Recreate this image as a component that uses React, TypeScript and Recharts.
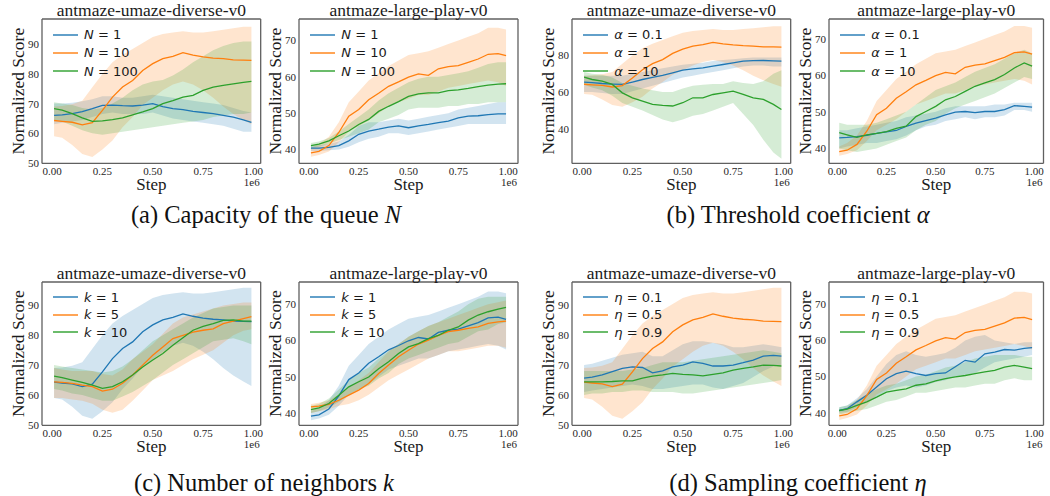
import React from 'react';
import { ComposedChart, Line, Area, XAxis, YAxis, Legend } from 'recharts';

const SERIF = "'Liberation Serif', 'Times New Roman', serif";
const SANS = "'DejaVu Sans', sans-serif";
const BLUE = '#1f77b4';
const ORANGE = '#ff7f0e';
const GREEN = '#2ca02c';
const FRAME = '#606060';

// training step (x 1e6)
const STEPS = [0.01, 0.05, 0.1, 0.15, 0.2, 0.25, 0.3, 0.35, 0.4, 0.45, 0.5, 0.55, 0.6, 0.65, 0.7, 0.75, 0.8, 0.85, 0.9, 0.95, 0.99];
const X_TICKS = [0, 0.25, 0.5, 0.75, 1];

const TITLE_UMAZE = 'antmaze-umaze-diverse-v0';
const TITLE_LARGE = 'antmaze-large-play-v0';

const N_LABELS = ['N = 1', 'N = 10', 'N = 100'];
const A_LABELS = ['α = 0.1', 'α = 1', 'α = 10'];
const K_LABELS = ['k = 1', 'k = 5', 'k = 10'];
const E_LABELS = ['η = 0.1', 'η = 0.5', 'η = 0.9'];

const CAPTIONS = ['(a) Capacity of the queue', '(b) Threshold coefficient', '(c) Number of neighbors', '(d) Sampling coefficient'];
const CAPTION_SYMBOLS = ['N', 'α', 'k', 'η'];

// default configuration (umaze)
const DEF_U_MEAN = [64.3, 64.0, 63.7, 62.8, 63.6, 67.7, 72.2, 75.6, 77.8, 81.2, 83.5, 85.2, 86.0, 87.2, 86.4, 85.8, 85.4, 85.2, 84.8, 84.7, 84.6];
const DEF_U_HI = [69.0, 69.2, 69.8, 71.0, 75.5, 80.0, 84.0, 86.5, 88.5, 90.5, 92.5, 93.5, 94.0, 94.5, 94.0, 94.0, 94.5, 95.0, 95.5, 96.0, 96.0];
const DEF_U_LO = [59.0, 58.5, 56.0, 53.0, 52.0, 54.5, 57.5, 62.0, 65.5, 69.5, 72.0, 74.5, 76.5, 77.5, 76.5, 74.5, 72.0, 69.0, 66.5, 64.5, 63.0];
// default configuration (large)
const DEF_L_MEAN = [39.1, 39.5, 41.1, 44.7, 49.2, 51.0, 53.7, 55.5, 57.4, 58.6, 59.9, 60.8, 60.4, 62.2, 62.8, 63.1, 64.0, 64.9, 66.2, 66.4, 65.8];
const DEF_L_HI = [40.5, 41.5, 43.5, 47.5, 53.0, 56.0, 59.0, 61.0, 63.0, 64.5, 66.0, 66.5, 67.0, 68.0, 69.0, 70.0, 71.0, 72.0, 73.5, 73.5, 73.0];
const DEF_L_LO = [38.0, 38.5, 39.5, 42.0, 45.0, 46.5, 48.0, 50.0, 52.0, 53.0, 54.0, 55.0, 55.0, 56.0, 57.0, 57.5, 58.0, 58.5, 59.0, 58.5, 57.5];

// (a) umaze
const A_N1_MEAN = [66.0, 66.2, 66.6, 67.3, 68.3, 69.4, 69.5, 69.3, 69.2, 69.5, 70.0, 69.0, 68.3, 68.0, 67.4, 67.0, 66.6, 66.0, 65.4, 64.5, 63.7];
const A_N1_HI = [70.0, 70.0, 70.3, 70.8, 71.5, 72.5, 72.5, 72.0, 72.0, 72.5, 73.0, 72.5, 72.0, 71.5, 71.0, 70.5, 70.0, 69.5, 68.5, 67.5, 67.0];
const A_N1_LO = [63.0, 63.5, 64.0, 64.5, 65.5, 66.5, 67.0, 66.5, 66.5, 66.5, 67.0, 66.0, 65.0, 64.5, 64.0, 63.5, 63.0, 62.5, 61.5, 60.5, 60.5];
const A_N100_MEAN = [68.3, 67.8, 66.6, 65.2, 64.0, 64.2, 64.6, 65.2, 66.2, 67.2, 68.3, 70.0, 71.0, 72.2, 72.8, 74.5, 75.6, 76.2, 76.7, 77.2, 77.5];
const A_N100_HI = [70.5, 70.0, 69.5, 68.5, 68.0, 68.5, 70.0, 72.0, 74.5, 76.5, 77.5, 78.0, 79.5, 81.5, 84.0, 86.0, 88.0, 89.5, 90.5, 91.0, 91.0];
const A_N100_LO = [64.5, 64.0, 62.5, 61.0, 60.0, 59.5, 60.0, 60.5, 61.0, 61.5, 62.0, 62.5, 63.0, 63.5, 64.0, 64.5, 65.5, 66.0, 66.5, 66.5, 67.0];
// (a) large
const AL_N1_MEAN = [40.4, 40.4, 40.6, 41.1, 42.4, 44.2, 45.1, 45.6, 46.2, 46.5, 46.0, 46.5, 46.9, 47.4, 47.8, 48.7, 49.2, 49.3, 49.6, 49.8, 49.8];
const AL_N1_HI = [41.2, 41.2, 41.5, 42.2, 44.0, 46.5, 47.5, 47.5, 48.0, 48.5, 48.0, 48.5, 49.0, 49.5, 50.0, 51.0, 51.5, 52.0, 52.5, 53.0, 53.0];
const AL_N1_LO = [39.6, 39.6, 39.8, 40.0, 40.8, 42.0, 43.0, 43.5, 44.5, 44.5, 44.0, 44.5, 45.0, 45.5, 46.0, 46.5, 47.0, 47.0, 47.0, 47.0, 47.0];
const AL_N100_MEAN = [41.1, 41.5, 42.4, 43.8, 45.1, 46.9, 48.3, 50.5, 51.9, 53.2, 54.6, 55.3, 55.6, 55.6, 56.2, 56.4, 56.8, 57.3, 57.7, 58.0, 58.1];
const AL_N100_HI = [41.8, 42.2, 43.2, 45.0, 47.0, 49.0, 51.0, 53.5, 55.5, 57.0, 58.5, 59.5, 60.0, 60.0, 60.5, 61.0, 61.5, 62.5, 63.5, 64.0, 64.0];
const AL_N100_LO = [40.4, 40.8, 41.6, 42.6, 43.5, 44.5, 45.5, 47.5, 48.5, 49.5, 51.0, 51.5, 51.5, 51.5, 52.0, 52.0, 52.5, 52.5, 53.0, 53.0, 53.0];

// (b) umaze
const B_A01_MEAN = [65.5, 65.2, 64.7, 64.4, 64.2, 65.5, 66.9, 68.0, 69.1, 70.5, 72.0, 72.7, 73.3, 74.2, 75.1, 76.0, 76.9, 77.2, 77.3, 77.1, 76.9];
const B_A01_HI = [69.0, 69.0, 69.0, 69.0, 69.0, 70.0, 71.0, 72.0, 73.0, 74.0, 75.0, 75.5, 76.0, 77.0, 77.5, 78.0, 78.5, 79.0, 79.0, 79.0, 79.0];
const B_A01_LO = [60.0, 60.0, 59.5, 59.0, 59.0, 60.5, 62.0, 63.5, 65.0, 66.5, 68.0, 69.0, 70.0, 71.0, 72.0, 73.0, 74.0, 74.5, 74.5, 74.0, 74.0];
const B_A10_MEAN = [68.2, 66.9, 66.0, 64.2, 59.6, 56.9, 55.1, 53.3, 52.7, 52.4, 54.2, 56.9, 56.9, 58.7, 59.6, 60.5, 58.7, 56.9, 56.0, 53.3, 50.5];
const B_A10_HI = [71.0, 70.0, 69.5, 68.0, 65.0, 63.5, 62.0, 61.0, 60.0, 60.0, 62.0, 63.5, 64.0, 64.5, 64.5, 66.0, 65.0, 64.5, 66.0, 70.0, 72.0];
const B_A10_LO = [64.0, 62.5, 61.0, 58.0, 54.0, 52.0, 50.0, 47.5, 45.0, 43.5, 45.0, 47.0, 48.0, 50.0, 52.0, 54.0, 48.0, 42.0, 34.0, 27.0, 23.5];
// (b) large
const BL_A01_MEAN = [42.9, 43.0, 43.2, 43.6, 44.1, 44.5, 44.9, 46.0, 46.9, 47.6, 48.3, 49.2, 49.9, 50.1, 49.8, 50.1, 50.1, 50.6, 51.7, 51.5, 51.3];
const BL_A01_HI = [45.0, 45.0, 45.5, 46.0, 46.5, 47.0, 47.5, 48.5, 49.0, 49.5, 50.0, 51.0, 51.5, 51.5, 51.5, 51.5, 52.0, 52.0, 52.5, 52.5, 52.5];
const BL_A01_LO = [40.0, 40.5, 41.0, 41.5, 41.5, 42.0, 42.5, 43.5, 45.0, 46.0, 46.5, 47.5, 48.0, 48.5, 48.0, 48.5, 48.5, 49.0, 50.5, 50.5, 50.0];
const BL_A10_MEAN = [44.3, 43.7, 43.0, 43.7, 44.1, 44.6, 45.5, 46.1, 48.7, 50.1, 51.5, 53.3, 54.2, 55.6, 57.0, 57.9, 58.8, 60.2, 62.0, 63.4, 62.5];
const BL_A10_HI = [47.0, 46.5, 46.5, 46.5, 47.0, 48.0, 49.0, 50.0, 52.0, 54.0, 56.0, 57.0, 58.0, 59.5, 61.0, 62.0, 63.0, 64.5, 66.0, 67.0, 66.0];
const BL_A10_LO = [40.0, 39.5, 39.0, 39.5, 40.0, 41.0, 42.0, 43.0, 45.0, 46.5, 47.5, 49.5, 51.0, 52.0, 53.0, 54.0, 55.0, 56.5, 58.0, 59.5, 59.0];

// (c) umaze
const C_K5_MEAN = [64.4, 64.2, 63.9, 63.3, 62.8, 61.3, 61.9, 63.9, 66.7, 70.0, 73.3, 76.1, 78.9, 80.0, 81.1, 81.7, 82.2, 83.9, 84.8, 85.6, 86.3];
const C_K5_HI = [69.0, 68.5, 68.0, 68.0, 68.0, 67.0, 66.5, 68.5, 72.0, 74.5, 77.0, 80.5, 84.0, 86.0, 87.0, 88.0, 89.0, 90.0, 90.5, 91.0, 91.0];
const C_K5_LO = [59.0, 59.0, 58.5, 58.0, 57.0, 55.0, 54.0, 55.0, 58.0, 61.5, 65.0, 66.5, 68.0, 70.0, 72.0, 73.5, 75.0, 77.5, 80.0, 81.5, 82.0];
const C_K10_MEAN = [66.3, 65.8, 65.0, 64.2, 63.3, 62.2, 62.8, 64.4, 66.7, 69.4, 71.7, 73.9, 76.7, 79.2, 81.7, 83.0, 83.9, 85.0, 85.2, 84.8, 84.8];
const C_K10_HI = [70.0, 69.5, 69.0, 68.5, 68.0, 67.5, 68.0, 69.5, 72.0, 75.0, 78.0, 80.0, 82.0, 84.0, 86.0, 87.5, 89.0, 89.5, 90.0, 90.0, 90.0];
const C_K10_LO = [62.0, 61.5, 60.5, 60.0, 59.0, 58.0, 58.0, 59.5, 61.0, 63.0, 65.0, 67.5, 70.0, 72.0, 74.0, 76.0, 78.0, 78.5, 79.0, 78.0, 77.0];
// (c) large
const CL_K5_MEAN = [41.7, 41.9, 42.4, 43.5, 44.9, 46.3, 48.1, 50.9, 53.2, 55.5, 57.3, 59.0, 60.1, 61.4, 62.4, 62.8, 63.3, 63.7, 64.7, 65.1, 65.3];
const CL_K5_HI = [42.5, 42.8, 43.5, 45.0, 47.0, 49.0, 51.0, 54.0, 57.0, 59.0, 61.0, 62.5, 64.0, 65.0, 66.0, 67.0, 68.0, 69.0, 70.0, 70.5, 71.0];
const CL_K5_LO = [40.0, 40.5, 41.0, 42.0, 42.5, 43.5, 45.0, 47.0, 49.0, 50.5, 52.0, 53.5, 55.0, 56.0, 57.0, 57.0, 57.5, 58.0, 58.5, 58.5, 58.0];
const CL_K10_MEAN = [40.9, 41.4, 42.6, 44.9, 47.2, 48.6, 49.9, 52.2, 54.1, 56.4, 58.2, 59.1, 60.5, 61.4, 62.8, 63.7, 65.6, 67.0, 67.9, 68.6, 69.1];
const CL_K10_HI = [42.0, 42.5, 44.0, 46.5, 49.0, 51.0, 52.5, 55.0, 57.0, 59.0, 61.0, 62.5, 64.0, 65.0, 66.5, 68.0, 70.0, 71.5, 72.0, 72.0, 72.0];
const CL_K10_LO = [40.0, 40.5, 41.5, 43.0, 45.0, 46.5, 47.5, 49.5, 51.0, 53.5, 55.0, 56.0, 57.0, 58.0, 59.0, 59.5, 61.0, 62.5, 63.0, 64.5, 65.0];

// (d) umaze
const D_E01_MEAN = [65.6, 66.0, 66.7, 67.8, 68.9, 69.4, 69.2, 67.4, 68.1, 69.4, 70.0, 71.1, 70.6, 69.7, 69.7, 70.0, 70.8, 71.7, 73.0, 73.3, 73.0];
const D_E01_HI = [70.0, 70.5, 71.5, 72.5, 73.5, 74.0, 74.5, 73.0, 73.0, 75.0, 77.0, 78.0, 78.0, 77.5, 77.0, 76.0, 76.0, 76.5, 77.0, 76.5, 76.0];
const D_E01_LO = [61.0, 61.5, 62.0, 62.5, 63.0, 63.5, 63.0, 62.0, 62.0, 62.5, 63.0, 63.5, 63.5, 62.5, 62.0, 63.0, 64.0, 66.0, 68.0, 69.5, 70.0];
const D_E09_MEAN = [64.4, 64.4, 64.4, 64.5, 64.7, 64.7, 65.6, 66.3, 66.7, 67.2, 66.9, 66.7, 66.4, 66.9, 67.4, 68.3, 68.9, 69.4, 70.0, 69.9, 69.7];
const D_E09_HI = [68.0, 68.0, 68.0, 68.0, 68.0, 68.5, 69.0, 70.0, 71.0, 71.0, 71.0, 71.5, 72.0, 72.5, 73.0, 73.5, 74.0, 74.5, 75.0, 74.5, 74.0];
const D_E09_LO = [60.0, 60.5, 60.5, 61.0, 61.0, 61.5, 61.5, 61.0, 61.0, 61.0, 60.5, 60.5, 61.0, 61.5, 62.0, 62.5, 63.0, 63.5, 64.0, 64.5, 65.0];
// (d) large
const DL_E01_MEAN = [40.6, 41.1, 43.0, 44.8, 47.1, 49.4, 50.8, 51.5, 50.8, 50.3, 50.8, 51.0, 52.7, 54.5, 54.0, 56.3, 56.8, 57.5, 57.3, 57.8, 58.0];
const DL_E01_HI = [41.5, 42.0, 44.0, 46.5, 50.0, 53.5, 56.0, 57.0, 56.0, 55.5, 56.0, 56.5, 58.0, 60.0, 61.0, 61.5, 60.0, 59.5, 59.0, 59.5, 59.5];
const DL_E01_LO = [40.0, 40.2, 41.5, 43.0, 44.5, 46.0, 47.0, 47.5, 47.0, 47.5, 48.5, 49.0, 50.0, 50.5, 51.0, 52.5, 54.0, 54.5, 55.0, 55.5, 56.0];
const DL_E09_MEAN = [40.6, 41.0, 42.0, 43.0, 44.3, 45.7, 46.2, 46.6, 47.6, 48.0, 48.8, 49.4, 49.9, 50.3, 50.8, 51.3, 51.7, 52.6, 53.1, 52.6, 52.2];
const DL_E09_HI = [41.5, 42.0, 43.5, 45.0, 46.5, 47.5, 48.0, 49.0, 50.0, 50.5, 51.5, 52.5, 53.0, 54.0, 55.0, 55.5, 56.0, 56.0, 56.0, 55.5, 55.5];
const DL_E09_LO = [39.5, 40.0, 40.5, 41.0, 42.0, 43.0, 43.5, 44.5, 45.5, 45.5, 46.0, 46.5, 47.0, 47.0, 47.5, 48.0, 48.0, 49.0, 49.5, 49.0, 49.0];

type Series = { name: string; color: string; mean: number[]; lo: number[]; hi: number[] };
type Panel = {
  title: string; fx: number; fy: number; fw: number; fh: number;
  xDomain: [number, number]; yDomain: [number, number]; yTicks: number[];
  rowH: number; series: Series[];
};

const s = (name: string, color: string, mean: number[], lo: number[], hi: number[]): Series => ({ name, color, mean, lo, hi });

const TOP_Y = 19.3, TOP_H = 144.4, BOT_Y = 281.7, BOT_H = 143.3;
const COL_X = [42, 299.3, 572.3, 829.3];
const COL_W = [218.7, 219, 218.7, 214.5];
const XD_L: [number, number] = [-0.05, 1.036];
const XD_R: [number, number] = [-0.05, 1.05];
const XD_R2: [number, number] = [-0.042, 1.048];

const PANELS: Panel[] = [
  { title: TITLE_UMAZE, fx: COL_X[0], fy: TOP_Y, fw: COL_W[0], fh: TOP_H, xDomain: XD_L, yDomain: [49.8, 98.6], yTicks: [50, 60, 70, 80, 90], rowH: 18.2,
    series: [s(N_LABELS[0], BLUE, A_N1_MEAN, A_N1_LO, A_N1_HI), s(N_LABELS[1], ORANGE, DEF_U_MEAN, DEF_U_LO, DEF_U_HI), s(N_LABELS[2], GREEN, A_N100_MEAN, A_N100_LO, A_N100_HI)] },
  { title: TITLE_LARGE, fx: COL_X[1], fy: TOP_Y, fw: COL_W[1], fh: TOP_H, xDomain: XD_R, yDomain: [36.2, 75.9], yTicks: [40, 50, 60, 70], rowH: 18.2,
    series: [s(N_LABELS[0], BLUE, AL_N1_MEAN, AL_N1_LO, AL_N1_HI), s(N_LABELS[1], ORANGE, DEF_L_MEAN, DEF_L_LO, DEF_L_HI), s(N_LABELS[2], GREEN, AL_N100_MEAN, AL_N100_LO, AL_N100_HI)] },
  { title: TITLE_UMAZE, fx: COL_X[2], fy: TOP_Y, fw: COL_W[2], fh: TOP_H, xDomain: XD_L, yDomain: [21, 100], yTicks: [40, 60, 80], rowH: 18.2,
    series: [s(A_LABELS[0], BLUE, B_A01_MEAN, B_A01_LO, B_A01_HI), s(A_LABELS[1], ORANGE, DEF_U_MEAN, DEF_U_LO, DEF_U_HI), s(A_LABELS[2], GREEN, B_A10_MEAN, B_A10_LO, B_A10_HI)] },
  { title: TITLE_LARGE, fx: COL_X[3], fy: TOP_Y, fw: COL_W[3], fh: TOP_H, xDomain: XD_R2, yDomain: [35.9, 75.4], yTicks: [40, 50, 60, 70], rowH: 18.2,
    series: [s(A_LABELS[0], BLUE, BL_A01_MEAN, BL_A01_LO, BL_A01_HI), s(A_LABELS[1], ORANGE, DEF_L_MEAN, DEF_L_LO, DEF_L_HI), s(A_LABELS[2], GREEN, BL_A10_MEAN, BL_A10_LO, BL_A10_HI)] },
  { title: TITLE_UMAZE, fx: COL_X[0], fy: BOT_Y, fw: COL_W[0], fh: BOT_H, xDomain: XD_L, yDomain: [49.8, 97.9], yTicks: [50, 60, 70, 80, 90], rowH: 17.5,
    series: [s(K_LABELS[0], BLUE, DEF_U_MEAN, DEF_U_LO, DEF_U_HI), s(K_LABELS[1], ORANGE, C_K5_MEAN, C_K5_LO, C_K5_HI), s(K_LABELS[2], GREEN, C_K10_MEAN, C_K10_LO, C_K10_HI)] },
  { title: TITLE_LARGE, fx: COL_X[1], fy: BOT_Y, fw: COL_W[1], fh: BOT_H, xDomain: XD_R, yDomain: [36.6, 76.1], yTicks: [40, 50, 60, 70], rowH: 17.5,
    series: [s(K_LABELS[0], BLUE, DEF_L_MEAN, DEF_L_LO, DEF_L_HI), s(K_LABELS[1], ORANGE, CL_K5_MEAN, CL_K5_LO, CL_K5_HI), s(K_LABELS[2], GREEN, CL_K10_MEAN, CL_K10_LO, CL_K10_HI)] },
  { title: TITLE_UMAZE, fx: COL_X[2], fy: BOT_Y, fw: COL_W[2], fh: BOT_H, xDomain: XD_L, yDomain: [49.8, 97.9], yTicks: [50, 60, 70, 80, 90], rowH: 17.5,
    series: [s(E_LABELS[0], BLUE, D_E01_MEAN, D_E01_LO, D_E01_HI), s(E_LABELS[1], ORANGE, DEF_U_MEAN, DEF_U_LO, DEF_U_HI), s(E_LABELS[2], GREEN, D_E09_MEAN, D_E09_LO, D_E09_HI)] },
  { title: TITLE_LARGE, fx: COL_X[3], fy: BOT_Y, fw: COL_W[3], fh: BOT_H, xDomain: XD_R2, yDomain: [36.5, 76.2], yTicks: [40, 50, 60, 70], rowH: 17.5,
    series: [s(E_LABELS[0], BLUE, DL_E01_MEAN, DL_E01_LO, DL_E01_HI), s(E_LABELS[1], ORANGE, DEF_L_MEAN, DEF_L_LO, DEF_L_HI), s(E_LABELS[2], GREEN, DL_E09_MEAN, DL_E09_LO, DL_E09_HI)] },
];

const CAPTION_POS = [
  { cx: 266, cy: 215 },
  { cx: 798, cy: 215 },
  { cx: 264, cy: 483 },
  { cx: 798, cy: 483 },
];

const ML = 42, MT = 19, AXH = 35, MR = 12;
const FRAME_LINE = { stroke: FRAME, strokeWidth: 1.3 };

function LegendBox({ payload, rowH, order }: any) {
  const items = (payload || [])
    .filter((p: any) => p.type !== 'none' && order.indexOf(p.value) >= 0)
    .sort((a: any, b: any) => order.indexOf(a.value) - order.indexOf(b.value));
  return (
    <div style={{ fontFamily: SANS, fontSize: 13, color: '#1a1a1a' }}>
      {items.map((it: any, i: number) => {
        const parts = String(it.value).split(' ');
        return (
          <div key={i} style={{ display: 'flex', alignItems: 'center', height: rowH, whiteSpace: 'nowrap' }}>
            <svg width={25} height={4} style={{ display: 'block' }}>
              <line x1={0} y1={2} x2={25} y2={2} stroke={it.color} strokeWidth={1.4} />
            </svg>
            <span style={{ marginLeft: 6 }}>
              <i>{parts[0]}</i> {parts.slice(1).join(' ')}
            </span>
          </div>
        );
      })}
    </div>
  );
}

function Subplot({ p }: { p: Panel }) {
  const W = ML + p.fw + MR;
  const H = MT + p.fh + AXH;
  const rows = STEPS.map((x, i) => {
    const r: any = { x };
    p.series.forEach((se, j) => {
      r['m' + j] = se.mean[i];
      r['b' + j] = [se.lo[i], se.hi[i]];
    });
    return r;
  });
  const order = p.series.map((se) => se.name);
  const titleLabel = (props: any) => {
    const vb = props.viewBox;
    return (
      <text x={vb.x + vb.width / 2} y={vb.y + vb.height - 3} textAnchor="middle" fontFamily={SERIF} fontSize={17.5} fill="#1a1a1a">
        {p.title}
      </text>
    );
  };
  const xLabel = (props: any) => {
    const vb = props.viewBox;
    return (
      <g>
        <text x={vb.x + vb.width / 2} y={vb.y + 27} textAnchor="middle" fontFamily={SERIF} fontSize={17} fill="#1a1a1a">Step</text>
        <text x={vb.x + vb.width - 1} y={vb.y + 22.5} textAnchor="end" fontFamily={SERIF} fontSize={11} fill="#262626">1e6</text>
      </g>
    );
  };
  const yLabel = (props: any) => {
    const vb = props.viewBox;
    const x = vb.x + vb.width - 18.3;
    const y = vb.y + vb.height / 2;
    return (
      <text x={x} y={y} transform={`rotate(-90 ${x} ${y})`} textAnchor="middle" fontFamily={SERIF} fontSize={17.5} fill="#1a1a1a">
        Normalized Score
      </text>
    );
  };
  const tickStyle = { fontSize: 11, fill: '#262626', fontFamily: SERIF };
  return (
    <div style={{ position: 'absolute', left: p.fx - ML, top: p.fy - MT }}>
      <ComposedChart width={W} height={H} data={rows} margin={{ top: MT - 1, right: MR - 1, bottom: 0, left: 0 }}>
        <XAxis xAxisId="top" orientation="top" dataKey="x" type="number" domain={p.xDomain} allowDataOverflow
          height={1} tick={false} axisLine={FRAME_LINE} tickLine={false} label={titleLabel} />
        <XAxis dataKey="x" type="number" domain={p.xDomain} allowDataOverflow ticks={X_TICKS} interval={0}
          tickFormatter={(v: number) => v.toFixed(2)} height={AXH} tickSize={0} tickMargin={3.5}
          axisLine={FRAME_LINE} tickLine={false} tick={tickStyle} label={xLabel} />
        <YAxis type="number" domain={p.yDomain} allowDataOverflow ticks={p.yTicks} interval={0} width={ML}
          tickSize={0} tickMargin={3} axisLine={FRAME_LINE} tickLine={false} tick={tickStyle} label={yLabel} />
        <YAxis yAxisId="r" orientation="right" type="number" domain={p.yDomain} allowDataOverflow width={1}
          tick={false} tickLine={false} axisLine={FRAME_LINE} />
        {p.series.flatMap((se, j) => [
          <Line key={'l' + j} dataKey={'m' + j} name={se.name} stroke={se.color} strokeWidth={1.3} dot={false}
            activeDot={false} type="linear" isAnimationActive={false} />,
          <Area key={'a' + j} dataKey={'b' + j} name={se.name + ' band'} stroke="none" fill={se.color} fillOpacity={0.2}
            type="linear" dot={false} activeDot={false} legendType="none" isAnimationActive={false} />,
        ])}
        <Legend layout="horizontal" verticalAlign="middle" align="center"
          wrapperStyle={{ left: ML + 11, top: MT + 15.5 - p.rowH / 2, width: 160, height: 'auto' }}
          content={(props: any) => <LegendBox payload={props.payload} rowH={p.rowH} order={order} />} />
      </ComposedChart>
    </div>
  );
}

export default function App() {
  return (
    <div style={{ position: 'absolute', left: 0, top: 0, width: 1050, height: 496, background: '#fff', overflow: 'hidden' }}>
      {PANELS.map((p, i) => <Subplot key={i} p={p} />)}
      {CAPTIONS.map((c, i) => (
        <div key={'c' + i} style={{
          position: 'absolute', left: CAPTION_POS[i].cx - 250, top: CAPTION_POS[i].cy - 14, width: 500,
          textAlign: 'center', fontFamily: SERIF, fontSize: 24.5, lineHeight: '28px', color: '#111', whiteSpace: 'nowrap',
        }}>
          {c} <i>{CAPTION_SYMBOLS[i]}</i>
        </div>
      ))}
    </div>
  );
}
